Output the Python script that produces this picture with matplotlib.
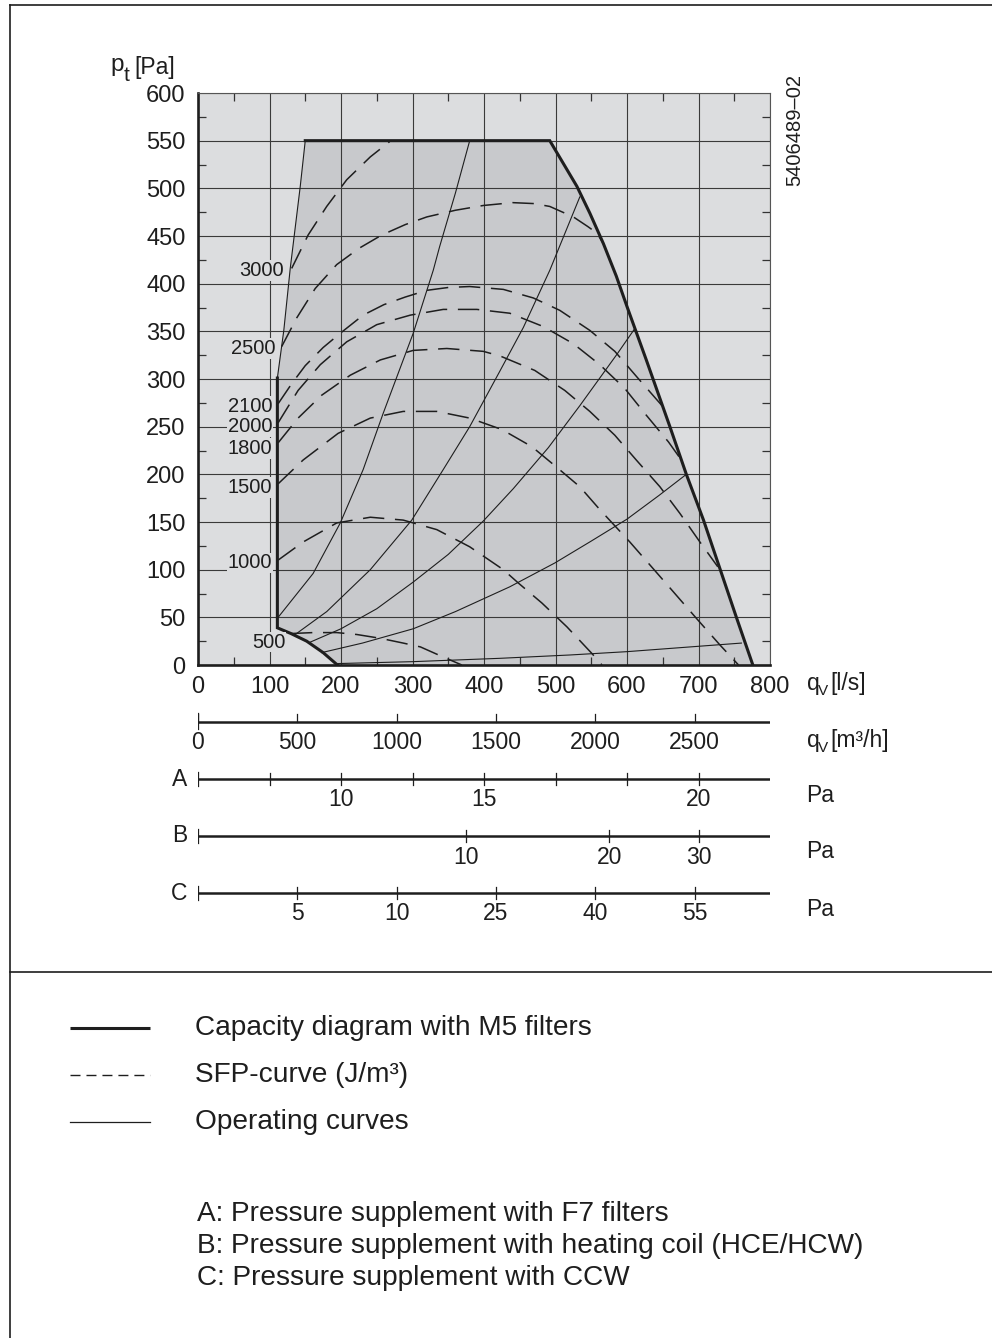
import matplotlib
matplotlib.use("Agg")
import matplotlib.pyplot as plt
from matplotlib import font_manager
from matplotlib.lines import Line2D

plt.rcParams["font.family"] = ["Liberation Sans", "DejaVu Sans"]

# ================= DATA =================
W, H = 992, 1338

# capacity diagram (thick line), l/s and Pa
CAP_LEFT_X = [111, 111, 130, 152, 175, 195]
CAP_LEFT_Y = [301, 39, 33, 25, 13, 0]
CAP_RIGHT_X = [150, 492, 511, 530, 548, 567, 585, 600, 627, 660, 683, 707, 730, 753, 776]
CAP_RIGHT_Y = [550, 550, 526, 502, 474, 442, 408, 376, 320, 250, 200, 152, 101, 50, 0]

# operating curves (thin)
OP0_X = [111, 120, 129, 143, 150]
OP0_Y = [301, 351, 416, 502, 550]
OP1_X = [111, 161, 199, 231, 259, 287, 301, 329, 338, 360, 380]
OP1_Y = [49, 96, 149, 205, 264, 320, 348, 414, 439, 495, 550]
OP2_X = [136, 180, 241, 299, 343, 380, 422, 455, 492, 534]
OP2_Y = [32, 56, 100, 152, 205, 250, 308, 354, 414, 491]
OP3_X = [157, 200, 250, 301, 350, 399, 441, 490, 534, 586, 611]
OP3_Y = [24, 38, 59, 87, 116, 151, 185, 228, 272, 326, 353]
OP4_X = [173, 230, 301, 360, 436, 499, 550, 600, 645, 683]
OP4_Y = [13, 23, 38, 56, 82, 107, 130, 153, 178, 200]
OP5_X = [195, 300, 422, 520, 600, 680, 760]
OP5_Y = [1.5, 3.5, 7, 10.5, 14, 18.5, 23]

# SFP curves (dashed)
SFP_LABELS = ["3000", "2500", "2100", "2000", "1800", "1500", "1000", "500"]
SFP3000_X = [131, 154, 180, 208, 241, 268]
SFP3000_Y = [416, 451, 481, 509, 533, 549]
SFP2500_X = [117, 138, 164, 194, 225, 257, 290, 320, 360, 399, 440, 470, 492, 525, 545, 558, 567]
SFP2500_Y = [334, 364, 395, 420, 437, 451, 462, 470, 477, 482, 485, 484, 481, 470, 460, 453, 442]
SFP2100_X = [112, 131, 150, 175, 199, 231, 260, 290, 320, 350, 380, 427, 469, 506, 548, 583, 614, 649]
SFP2100_Y = [274, 295, 314, 333, 348, 367, 378, 386, 393, 396, 397, 394, 385, 372, 351, 329, 302, 272]
SFP2000_X = [112, 140, 171, 208, 250, 297, 343, 390, 436, 483, 525, 562, 597, 627, 658, 677]
SFP2000_Y = [254, 288, 315, 339, 357, 367, 373, 373, 369, 355, 337, 315, 290, 262, 234, 214]
SFP1800_X = [112, 140, 173, 213, 255, 301, 348, 399, 423, 471, 513, 548, 583, 613, 646, 674, 702, 727]
SFP1800_Y = [233, 259, 283, 304, 320, 330, 332, 329, 324, 309, 288, 266, 241, 215, 187, 159, 129, 103]
SFP1500_X = [112, 147, 196, 241, 287, 334, 380, 425, 467, 504, 534, 562, 604, 646, 697, 730, 756]
SFP1500_Y = [190, 215, 243, 259, 266, 266, 259, 247, 229, 206, 187, 163, 129, 93, 49, 21, 0]
SFP1000_X = [112, 147, 194, 241, 287, 334, 380, 427, 448, 481, 516, 551, 565]
SFP1000_Y = [110, 129, 149, 155, 152, 142, 124, 100, 86, 65, 40, 12, 0]
SFP500_X = [130, 161, 194, 222, 255, 287, 311, 338, 369]
SFP500_Y = [33, 34, 34, 32, 28, 23, 19, 10, 0]
SFP_LABEL_X = [120, 108, 103.5, 103.5, 103.5, 103.5, 104, 122]
SFP_LABEL_Y = [414, 332, 271, 250, 227, 186, 107, 24]

# lower scales
M3H_TICKS = [0, 500, 1000, 1500, 2000, 2500]
A_TICKS_LS = [100, 200, 300, 400, 500, 600, 700]
A_LABEL_LS = [200, 400, 700]
A_LABELS = ["10", "15", "20"]
B_TICKS_LS = [375, 575, 700]
B_LABELS = ["10", "20", "30"]
C_TICKS_M3H = [500, 1000, 1500, 2000, 2500]
C_LABELS = ["5", "10", "25", "40", "55"]

BG = "#dcdddf"
SHADE = "#c8c9cc"
INK = "#1e1e1e"


def P(x, y):
    return x / W, 1 - y / H


fig = plt.figure(figsize=(W / 100, H / 100), dpi=100)

# ================= MAIN CHART =================
ax = fig.add_axes([198 / W, 1 - 665 / H, 572 / W, 572 / H])
ax.set_xlim(0, 800)
ax.set_ylim(0, 600)
ax.set_facecolor(BG)
ax.set_axisbelow("line")

region_x = OP0_X + CAP_RIGHT_X[1:] + CAP_LEFT_X[::-1]
region_y = OP0_Y + CAP_RIGHT_Y[1:] + CAP_LEFT_Y[::-1]
ax.fill(region_x, region_y, color=SHADE, lw=0, zorder=1)

ax.set_xticks(range(0, 801, 100))
ax.set_yticks(range(0, 601, 50))
ax.set_xticks(range(50, 800, 100), minor=True)
ax.set_yticks(range(25, 600, 50), minor=True)
ax.grid(True, which="major", color="#3a3a3a", lw=0.8)
ax.tick_params(which="major", length=0, labelsize=17, colors=INK)
ax.tick_params(axis="x", which="major", pad=8)
ax.tick_params(axis="y", which="major", pad=9)
ax.tick_params(which="minor", direction="in", length=5.5, width=0.9, color="#333333",
               top=True, right=True, bottom=True, left=True)
for side in ["left", "bottom"]:
    ax.spines[side].set_linewidth(1.9)
    ax.spines[side].set_color(INK)
for side in ["top", "right"]:
    ax.spines[side].set_linewidth(0.8)
    ax.spines[side].set_color("#555555")

for xs, ys in [(OP0_X, OP0_Y), (OP1_X, OP1_Y), (OP2_X, OP2_Y), (OP3_X, OP3_Y),
               (OP4_X, OP4_Y), (OP5_X, OP5_Y)]:
    ax.plot(xs, ys, color=INK, lw=0.8, zorder=3)

sfp = [(SFP3000_X, SFP3000_Y), (SFP2500_X, SFP2500_Y), (SFP2100_X, SFP2100_Y),
       (SFP2000_X, SFP2000_Y), (SFP1800_X, SFP1800_Y), (SFP1500_X, SFP1500_Y),
       (SFP1000_X, SFP1000_Y), (SFP500_X, SFP500_Y)]
for xs, ys in sfp:
    ax.plot(xs, ys, color=INK, lw=1.1, dashes=(14, 7), zorder=3)

ax.plot(CAP_LEFT_X, CAP_LEFT_Y, color=INK, lw=2.2, zorder=4, solid_joinstyle="miter")
ax.plot(CAP_RIGHT_X, CAP_RIGHT_Y, color=INK, lw=2.2, zorder=4, solid_joinstyle="miter")

for lab, lx, ly in zip(SFP_LABELS, SFP_LABEL_X, SFP_LABEL_Y):
    ax.text(lx, ly, lab, ha="right", va="center", fontsize=14.5, color=INK, zorder=5,
            bbox=dict(fc=BG, ec="none", pad=0.6))

# axis titles
fig.text(*P(110, 71), "p", fontsize=17.5, color=INK, va="baseline")
fig.text(*P(124, 81), "t", fontsize=15, color=INK, va="baseline")
fig.text(*P(134, 74), "[Pa]", fontsize=16.5, color=INK, va="baseline")

fig.text(*P(807, 690), "q", fontsize=16.5, color=INK, va="baseline")
fig.text(*P(818, 695), "V", fontsize=11, color=INK, va="baseline")
fig.text(*P(830, 690), "[l/s]", fontsize=16.5, color=INK, va="baseline")

fig.text(*P(807, 747), "q", fontsize=16.5, color=INK, va="baseline")
fig.text(*P(818, 752), "V", fontsize=11, color=INK, va="baseline")
fig.text(*P(830, 747), "[m\u00b3/h]", fontsize=16.5, color=INK, va="baseline")

names = {f.name for f in font_manager.fontManager.ttflist}
narrow = "Liberation Sans Narrow" if "Liberation Sans Narrow" in names else "Liberation Sans"
fig.text(*P(795, 130), "5406489\u201302", rotation=90, ha="center", va="center",
         fontsize=16 if narrow != "Liberation Sans" else 14.5, family=[narrow, "DejaVu Sans"],
         color=INK)

# ================= LOWER SCALES =================
axs = fig.add_axes([198 / W, 1 - 940 / H, 572 / W, 240 / H])
axs.set_xlim(0, 800)
axs.set_ylim(940, 700)
axs.axis("off")

rows = [722, 779, 836, 893]
for r in rows:
    axs.plot([0, 800], [r, r], color=INK, lw=1.8, solid_capstyle="butt")

# m3/h
axs.plot([0, 0], [713, 729], color=INK, lw=0.9)
for v in M3H_TICKS:
    x = v / 3.6
    axs.plot([x, x], [714, 722], color=INK, lw=0.9)
    axs.text(x, 742, str(v), ha="center", va="center", fontsize=16.5, color=INK)

# A
axs.plot([0, 0], [772, 786], color=INK, lw=0.9)
for x in A_TICKS_LS:
    axs.plot([x, x], [773, 785], color=INK, lw=0.9)
for x, lab in zip(A_LABEL_LS, A_LABELS):
    axs.text(x, 800, lab, ha="center", va="center", fontsize=16.5, color=INK)

# B
axs.plot([0, 0], [829, 843], color=INK, lw=0.9)
for x, lab in zip(B_TICKS_LS, B_LABELS):
    axs.plot([x, x], [830, 842], color=INK, lw=0.9)
    axs.text(x, 857, lab, ha="center", va="center", fontsize=16.5, color=INK)

# C
axs.plot([0, 0], [886, 900], color=INK, lw=0.9)
for v, lab in zip(C_TICKS_M3H, C_LABELS):
    x = v / 3.6
    axs.plot([x, x], [887, 899], color=INK, lw=0.9)
    axs.text(x, 914, lab, ha="center", va="center", fontsize=16.5, color=INK)

for lab, r in zip(["A", "B", "C"], rows[1:]):
    fig.text(*P(187, r), lab, ha="right", va="center", fontsize=16.5, color=INK)
    fig.text(*P(806, r + 16), "Pa", ha="left", va="center", fontsize=16.5, color=INK)

# ================= FRAME & LEGEND =================
for xs, ys in [([10, 10], [5, H]), ([10, W], [5, 5]), ([10, W], [972, 972])]:
    fig.add_artist(Line2D([x / W for x in xs], [1 - y / H for y in ys],
                          transform=fig.transFigure, color=INK, lw=1.2))

def legend_line(y, **kw):
    fig.add_artist(Line2D([70 / W, 150 / W], [1 - y / H] * 2, transform=fig.transFigure,
                          color=INK, **kw))

legend_line(1028, lw=2.2, solid_capstyle="butt")
legend_line(1075, lw=1.0, dashes=(7.2, 4.3))
legend_line(1122, lw=0.9)

LEG_FS = 20.2
fig.text(*P(195, 1028), "Capacity diagram with M5 filters", va="center", fontsize=LEG_FS, color=INK)
fig.text(*P(195, 1075), "SFP-curve (J/m\u00b3)", va="center", fontsize=LEG_FS, color=INK)
fig.text(*P(195, 1122), "Operating curves", va="center", fontsize=LEG_FS, color=INK)

fig.text(*P(197, 1214), "A: Pressure supplement with F7 filters", va="center", fontsize=LEG_FS, color=INK)
fig.text(*P(197, 1246), "B: Pressure supplement with heating coil (HCE/HCW)", va="center",
         fontsize=LEG_FS, color=INK)
fig.text(*P(197, 1278), "C: Pressure supplement with CCW", va="center", fontsize=LEG_FS, color=INK)

fig.savefig("out.png", dpi=100)
